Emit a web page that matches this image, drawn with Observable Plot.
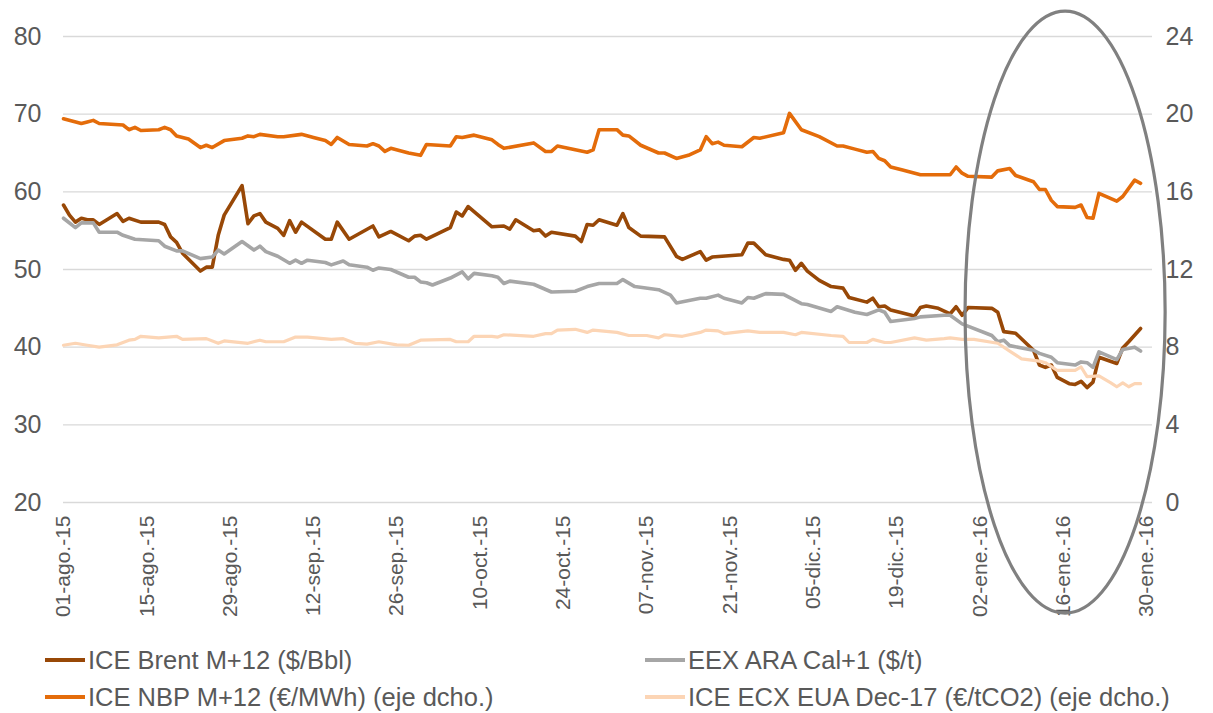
<!DOCTYPE html>
<html><head><meta charset="utf-8">
<script src="https://cdn.jsdelivr.net/npm/d3@7"></script>
<script src="https://cdn.jsdelivr.net/npm/@observablehq/plot@0.6"></script>
<style>
body{margin:0;background:#fff;font-family:"Liberation Sans",Arial,sans-serif;}
#legend{position:relative;height:78px;width:1213px;}
.item{position:absolute;display:flex;align-items:center;font-size:25.5px;color:#595959;white-space:nowrap;height:30px;}
.sw{width:40px;height:4px;margin-right:3px;}
</style></head><body><div id="chart"></div><div id="legend"></div>
<script>
// ---- data ----
const brentDates = ["2015-08-01","2015-08-02","2015-08-03","2015-08-04","2015-08-05","2015-08-06","2015-08-07","2015-08-10","2015-08-11","2015-08-12","2015-08-14","2015-08-17","2015-08-18","2015-08-19","2015-08-20","2015-08-21","2015-08-24","2015-08-25","2015-08-26","2015-08-27","2015-08-28","2015-08-31","2015-09-01","2015-09-02","2015-09-03","2015-09-04","2015-09-06","2015-09-07","2015-09-08","2015-09-09","2015-09-10","2015-09-14","2015-09-15","2015-09-16","2015-09-18","2015-09-22","2015-09-23","2015-09-25","2015-09-28","2015-09-29","2015-09-30","2015-10-01","2015-10-05","2015-10-06","2015-10-07","2015-10-08","2015-10-12","2015-10-14","2015-10-15","2015-10-16","2015-10-19","2015-10-20","2015-10-21","2015-10-22","2015-10-26","2015-10-27","2015-10-28","2015-10-29","2015-10-30","2015-11-02","2015-11-03","2015-11-04","2015-11-06","2015-11-10","2015-11-12","2015-11-13","2015-11-16","2015-11-17","2015-11-18","2015-11-23","2015-11-24","2015-11-25","2015-11-27","2015-11-30","2015-12-01","2015-12-02","2015-12-03","2015-12-04","2015-12-06","2015-12-08","2015-12-10","2015-12-11","2015-12-14","2015-12-15","2015-12-16","2015-12-17","2015-12-18","2015-12-22","2015-12-23","2015-12-24","2015-12-26","2015-12-28","2015-12-29","2015-12-30","2015-12-31","2016-01-04","2016-01-05","2016-01-06","2016-01-08","2016-01-11","2016-01-12","2016-01-13","2016-01-14","2016-01-15","2016-01-17","2016-01-18","2016-01-19","2016-01-20","2016-01-21","2016-01-22","2016-01-25","2016-01-26","2016-01-27","2016-01-29"];
const brentValues = [58.3,57.0,56.1,56.6,56.4,56.4,55.8,57.2,56.2,56.6,56.1,56.1,55.8,54.2,53.5,52.1,49.8,50.3,50.3,54.4,57.0,60.8,55.9,56.9,57.2,56.1,55.3,54.4,56.3,54.8,56.1,53.9,53.9,56.1,53.9,55.6,54.2,54.9,53.7,54.3,54.4,53.9,55.4,57.4,56.9,58.1,55.5,55.6,55.2,56.4,55.0,55.1,54.3,54.8,54.3,53.6,55.8,55.7,56.4,55.7,57.2,55.4,54.3,54.2,51.7,51.3,52.3,51.2,51.6,51.9,53.4,53.4,51.9,51.3,51.2,49.9,50.8,49.8,48.6,47.8,47.6,46.4,45.8,46.3,45.2,45.3,44.8,44.0,45.1,45.3,45.0,44.3,45.2,44.1,45.1,45.0,44.5,42.0,41.8,39.6,37.7,37.4,37.7,36.1,35.3,35.2,35.6,34.8,35.5,38.7,37.9,39.9,40.7,42.4];

const araDates = ["2015-08-01","2015-08-03","2015-08-04","2015-08-06","2015-08-07","2015-08-10","2015-08-11","2015-08-13","2015-08-17","2015-08-18","2015-08-20","2015-08-21","2015-08-24","2015-08-26","2015-08-27","2015-08-28","2015-08-31","2015-09-02","2015-09-03","2015-09-04","2015-09-06","2015-09-08","2015-09-09","2015-09-10","2015-09-11","2015-09-14","2015-09-15","2015-09-17","2015-09-18","2015-09-21","2015-09-22","2015-09-23","2015-09-25","2015-09-28","2015-09-29","2015-09-30","2015-10-01","2015-10-02","2015-10-05","2015-10-07","2015-10-08","2015-10-09","2015-10-12","2015-10-13","2015-10-14","2015-10-15","2015-10-19","2015-10-22","2015-10-26","2015-10-28","2015-10-30","2015-11-02","2015-11-03","2015-11-05","2015-11-09","2015-11-11","2015-11-12","2015-11-16","2015-11-17","2015-11-19","2015-11-20","2015-11-23","2015-11-24","2015-11-25","2015-11-27","2015-11-30","2015-12-03","2015-12-04","2015-12-08","2015-12-09","2015-12-12","2015-12-14","2015-12-16","2015-12-17","2015-12-18","2015-12-22","2015-12-23","2015-12-27","2015-12-28","2015-12-30","2016-01-04","2016-01-05","2016-01-06","2016-01-07","2016-01-11","2016-01-12","2016-01-14","2016-01-15","2016-01-18","2016-01-19","2016-01-20","2016-01-21","2016-01-22","2016-01-25","2016-01-26","2016-01-28","2016-01-29"];
const araValues = [56.6,55.4,56.0,56.0,54.8,54.8,54.4,53.9,53.7,53.0,52.4,52.4,51.4,51.6,52.5,52.0,53.6,52.5,53.0,52.3,51.7,50.8,51.2,50.8,51.2,50.9,50.6,51.1,50.6,50.3,49.9,50.2,50.0,49.0,49.0,48.4,48.3,48.0,48.9,49.7,48.8,49.5,49.2,49.0,48.2,48.5,48.1,47.1,47.2,47.8,48.2,48.2,48.7,47.8,47.4,46.7,45.7,46.3,46.3,46.7,46.3,45.7,46.4,46.3,46.9,46.8,45.6,45.5,44.6,45.2,44.5,44.2,44.8,44.5,43.3,43.7,43.9,44.1,44.1,43.0,41.5,40.7,40.9,40.2,39.6,39.2,38.7,38.0,37.7,38.1,38.0,37.4,39.4,38.4,39.7,40.0,39.5];

const nbpDates = ["2015-08-01","2015-08-04","2015-08-05","2015-08-06","2015-08-07","2015-08-11","2015-08-12","2015-08-13","2015-08-14","2015-08-17","2015-08-18","2015-08-19","2015-08-20","2015-08-22","2015-08-24","2015-08-25","2015-08-26","2015-08-28","2015-08-31","2015-09-01","2015-09-02","2015-09-03","2015-09-06","2015-09-07","2015-09-10","2015-09-12","2015-09-14","2015-09-15","2015-09-16","2015-09-18","2015-09-21","2015-09-22","2015-09-23","2015-09-24","2015-09-25","2015-09-28","2015-09-30","2015-10-01","2015-10-05","2015-10-06","2015-10-07","2015-10-09","2015-10-12","2015-10-13","2015-10-14","2015-10-19","2015-10-21","2015-10-22","2015-10-23","2015-10-28","2015-10-29","2015-10-30","2015-11-02","2015-11-03","2015-11-04","2015-11-06","2015-11-09","2015-11-10","2015-11-12","2015-11-14","2015-11-16","2015-11-17","2015-11-18","2015-11-19","2015-11-20","2015-11-23","2015-11-25","2015-11-26","2015-11-30","2015-12-01","2015-12-03","2015-12-06","2015-12-09","2015-12-10","2015-12-12","2015-12-14","2015-12-15","2015-12-16","2015-12-17","2015-12-18","2015-12-20","2015-12-23","2015-12-28","2015-12-29","2015-12-30","2015-12-31","2016-01-04","2016-01-05","2016-01-07","2016-01-08","2016-01-11","2016-01-12","2016-01-13","2016-01-14","2016-01-15","2016-01-18","2016-01-19","2016-01-20","2016-01-21","2016-01-22","2016-01-25","2016-01-26","2016-01-28","2016-01-29"];
const nbpValues = [19.76,19.52,19.6,19.68,19.52,19.44,19.2,19.32,19.16,19.2,19.32,19.2,18.88,18.72,18.28,18.4,18.28,18.64,18.76,18.88,18.84,18.96,18.84,18.84,18.96,18.8,18.64,18.44,18.8,18.44,18.36,18.48,18.36,18.08,18.24,18.0,17.88,18.44,18.36,18.84,18.8,18.92,18.68,18.44,18.24,18.52,18.08,18.08,18.36,18.04,18.16,19.2,19.2,18.92,18.88,18.4,18.0,18.0,17.72,17.88,18.16,18.84,18.48,18.56,18.4,18.32,18.8,18.76,19.04,20.04,19.2,18.84,18.36,18.36,18.2,18.04,18.08,17.72,17.6,17.28,17.12,16.88,16.88,17.28,16.96,16.8,16.76,17.08,17.2,16.84,16.52,16.12,16.12,15.56,15.24,15.2,15.32,14.68,14.64,15.92,15.52,15.76,16.6,16.44];

const euaDates = ["2015-08-01","2015-08-03","2015-08-05","2015-08-07","2015-08-10","2015-08-12","2015-08-13","2015-08-14","2015-08-17","2015-08-20","2015-08-21","2015-08-25","2015-08-27","2015-08-28","2015-09-01","2015-09-03","2015-09-04","2015-09-07","2015-09-09","2015-09-11","2015-09-15","2015-09-17","2015-09-19","2015-09-21","2015-09-23","2015-09-26","2015-09-28","2015-09-30","2015-10-05","2015-10-06","2015-10-08","2015-10-09","2015-10-12","2015-10-13","2015-10-14","2015-10-19","2015-10-21","2015-10-22","2015-10-23","2015-10-26","2015-10-28","2015-10-29","2015-11-02","2015-11-04","2015-11-07","2015-11-09","2015-11-10","2015-11-13","2015-11-16","2015-11-17","2015-11-19","2015-11-20","2015-11-24","2015-11-26","2015-11-30","2015-12-02","2015-12-03","2015-12-08","2015-12-10","2015-12-11","2015-12-14","2015-12-15","2015-12-17","2015-12-18","2015-12-22","2015-12-24","2015-12-27","2015-12-28","2015-12-30","2016-01-01","2016-01-05","2016-01-07","2016-01-09","2016-01-12","2016-01-13","2016-01-15","2016-01-18","2016-01-19","2016-01-20","2016-01-22","2016-01-24","2016-01-25","2016-01-26","2016-01-27","2016-01-28","2016-01-29"];
const euaValues = [8.1,8.2,8.1,8.0,8.12,8.36,8.4,8.56,8.48,8.56,8.4,8.44,8.2,8.32,8.2,8.36,8.28,8.28,8.52,8.52,8.4,8.44,8.2,8.16,8.28,8.12,8.1,8.36,8.4,8.28,8.28,8.56,8.56,8.52,8.64,8.56,8.7,8.7,8.88,8.92,8.76,8.88,8.76,8.6,8.6,8.48,8.64,8.56,8.76,8.88,8.84,8.7,8.84,8.76,8.76,8.64,8.76,8.6,8.56,8.24,8.24,8.4,8.24,8.24,8.48,8.36,8.44,8.48,8.4,8.4,8.2,7.8,7.4,7.28,7.2,6.8,6.8,6.98,6.48,6.52,6.16,5.96,6.16,5.96,6.12,6.12];

const seriesNames = ["ICE Brent M+12 ($/Bbl)","EEX ARA Cal+1 ($/t)","ICE NBP M+12 (€/MWh) (eje dcho.)","ICE ECX EUA Dec-17 (€/tCO2) (eje dcho.)"];
const seriesColors = ["#984807","#a6a6a6","#e46c0a","#fcd5b5"];
const leftTicks = [20,30,40,50,60,70,80];
const rightTicks = [0,4,8,12,16,20,24];
const xTicks = ["2015-08-01","2015-08-15","2015-08-29","2015-09-12","2015-09-26","2015-10-10","2015-10-24","2015-11-07","2015-11-21","2015-12-05","2015-12-19","2016-01-02","2016-01-16","2016-01-30"];
const monthsEs = ["ene.","feb.","mar.","abr.","may.","jun.","jul.","ago.","sep.","oct.","nov.","dic."];
const xDomain = ["2015-08-01","2016-01-31"];
// annotation ellipse bounds (date range, left-axis value range)
const ellipseDates = ["2015-12-30T14:00:00Z","2016-02-02T05:00:00Z"];
const ellipseValues = [5.7, 83.2];

// ---- build ----
const toLeft = v => 20 + v * 2.5;          // right axis (0–24) -> left axis (20–80)
const toRight = v => Math.round((v - 20) * 0.4);
const parse = s => new Date(s);
const mk = (dates, values, conv) => dates.map((d, i) => ({date: parse(d), value: conv ? toLeft(values[i]) : values[i]}));
const series = [
  {data: mk(brentDates, brentValues, false), color: seriesColors[0], w: 3.6},
  {data: mk(araDates, araValues, false), color: seriesColors[1], w: 3.6},
  {data: mk(nbpDates, nbpValues, true), color: seriesColors[2], w: 3.6},
  {data: mk(euaDates, euaValues, true), color: seriesColors[3], w: 3.2}
];
const fmt = d => String(d.getUTCDate()).padStart(2, "0") + "-" + monthsEs[d.getUTCMonth()] + "-" + String(d.getUTCFullYear()).slice(2);

const plot = Plot.plot({
  width: 1213, height: 635,
  marginLeft: 63, marginRight: 61, marginTop: 36, marginBottom: 133,
  style: {fontFamily: '"Liberation Sans", Arial, sans-serif', color: "#595959", background: "#fff", overflow: "visible"},
  x: {type: "utc", domain: xDomain.map(parse), label: null},
  y: {domain: [20, 80], label: null},
  marks: [
    Plot.gridY(leftTicks, {stroke: "#d9d9d9", strokeOpacity: 1, strokeWidth: 1.3}),
    Plot.axisY(leftTicks, {anchor: "left", tickSize: 0, tickPadding: 22, fontSize: 25, label: null}),
    Plot.axisY(leftTicks, {anchor: "right", tickSize: 0, tickPadding: 13, fontSize: 25, label: null, tickFormat: toRight}),
    Plot.axisX(xTicks.map(parse), {anchor: "bottom", tickSize: 0, tickPadding: 13, tickRotate: -90, fontSize: 21, label: null, tickFormat: fmt}),
    ...series.map(s => Plot.lineY(s.data, {x: "date", y: "value", stroke: s.color, strokeWidth: s.w, strokeLinejoin: "round", strokeLinecap: "round"}))
  ]
});
document.getElementById("chart").appendChild(plot);

// ellipse annotation through the plot's scales
const sx = plot.scale("x"), sy = plot.scale("y");
const x0 = sx.apply(parse(ellipseDates[0])), x1 = sx.apply(parse(ellipseDates[1]));
const y0 = sy.apply(ellipseValues[0]), y1 = sy.apply(ellipseValues[1]);
d3.select(plot).append("ellipse")
  .attr("cx", (x0 + x1) / 2).attr("cy", (y0 + y1) / 2)
  .attr("rx", Math.abs(x1 - x0) / 2).attr("ry", Math.abs(y0 - y1) / 2)
  .attr("fill", "none").attr("stroke", "#808080").attr("stroke-width", 3.2);

// legend
const legendPos = [[45, 10], [645, 10], [45, 47], [645, 47]];
const leg = document.getElementById("legend");
seriesNames.forEach((n, i) => {
  const it = document.createElement("div");
  it.className = "item";
  it.style.left = legendPos[i][0] + "px";
  it.style.top = legendPos[i][1] + "px";
  it.innerHTML = `<span class="sw" style="background:${seriesColors[i]}"></span><span>${n}</span>`;
  leg.appendChild(it);
});
</script></body></html>
